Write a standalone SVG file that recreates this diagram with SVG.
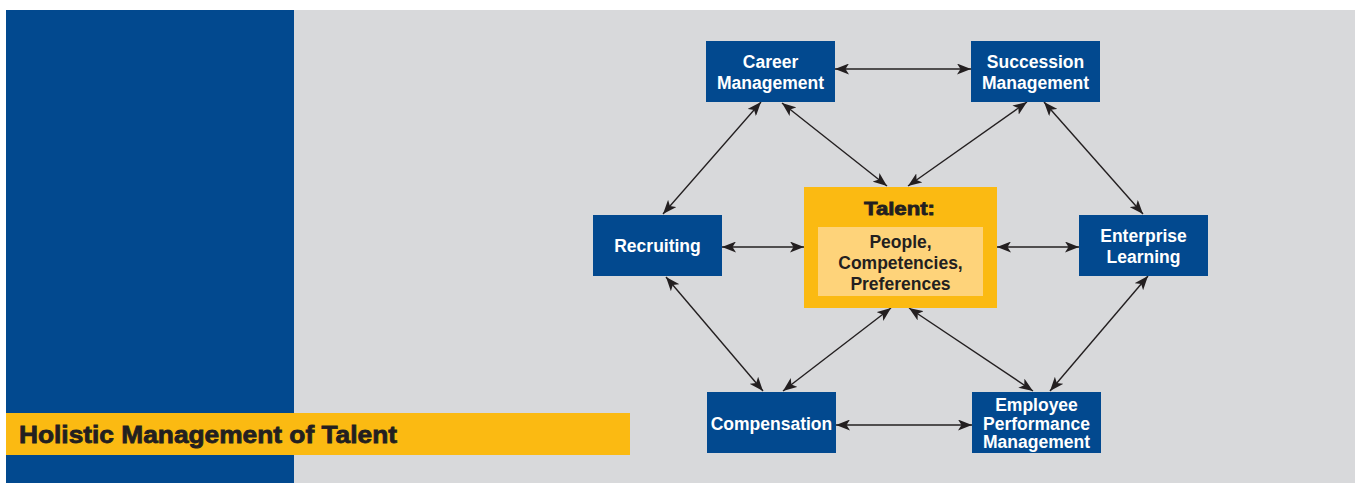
<svg xmlns="http://www.w3.org/2000/svg" width="1355" height="483" viewBox="0 0 1355 483">
<style>
.box{fill:#02498F}
.lbl{fill:#FFFFFF;font-family:"Liberation Sans",Arial,sans-serif;font-weight:bold;font-size:17.5px;text-anchor:middle}
.dark{fill:#231F20;font-family:"Liberation Sans",Arial,sans-serif;font-weight:bold;font-size:17.5px;text-anchor:middle}
.heavy{fill:#231F20;stroke:#231F20;stroke-width:0.8;font-family:"Liberation Sans",Arial,sans-serif;font-weight:bold}
.conn line{stroke:#231F20;stroke-width:1.4;marker-start:url(#ah);marker-end:url(#ah)}
</style>
<defs>
<marker id="ah" viewBox="0 0 14 11" refX="14" refY="5.5" markerWidth="14" markerHeight="11" markerUnits="userSpaceOnUse" orient="auto-start-reverse">
<path d="M0,0 L14,5.5 L0,11 L3.5,5.5 z" fill="#231F20"/>
</marker>
</defs>
<rect x="0" y="0" width="1355" height="483" fill="#FFFFFF"/>
<rect x="294" y="10" width="1061" height="473" fill="#D8D9DB"/>
<rect x="6" y="10" width="288" height="473" fill="#02498F"/>
<g id="title">
<rect x="6" y="413" width="624" height="42" fill="#FBBA12"/>
<text class="heavy" x="19" y="443" font-size="24.5" textLength="378" lengthAdjust="spacingAndGlyphs">Holistic Management of Talent</text>
</g>
<g class="conn" id="connectors">
<line x1="835" y1="69" x2="971" y2="69"/>
<line x1="722" y1="247" x2="804" y2="247"/>
<line x1="997" y1="247" x2="1079" y2="247"/>
<line x1="836" y1="425" x2="972" y2="425"/>
<line x1="761" y1="102" x2="663" y2="214"/>
<line x1="782" y1="103" x2="887" y2="186"/>
<line x1="1027" y1="102" x2="908" y2="186"/>
<line x1="1044" y1="102" x2="1143" y2="214"/>
<line x1="1148" y1="276" x2="1050" y2="391"/>
<line x1="909" y1="308" x2="1033" y2="391"/>
<line x1="891" y1="308" x2="783" y2="391"/>
<line x1="666" y1="277" x2="763" y2="391"/>
</g>
<g id="career">
<rect class="box" x="706" y="41" width="129" height="61"/>
<text class="lbl" x="770.5" y="68">Career</text>
<text class="lbl" x="770.5" y="89">Management</text>
</g>
<g id="succession">
<rect class="box" x="971" y="41" width="129" height="61"/>
<text class="lbl" x="1035.5" y="68">Succession</text>
<text class="lbl" x="1035.5" y="89">Management</text>
</g>
<g id="recruiting">
<rect class="box" x="593" y="215" width="129" height="61"/>
<text class="lbl" x="657.5" y="252">Recruiting</text>
</g>
<g id="enterprise">
<rect class="box" x="1079" y="215" width="129" height="61"/>
<text class="lbl" x="1143.5" y="242">Enterprise</text>
<text class="lbl" x="1143.5" y="263">Learning</text>
</g>
<g id="compensation">
<rect class="box" x="707" y="392" width="129" height="61"/>
<text class="lbl" x="771.5" y="430">Compensation</text>
</g>
<g id="epm">
<rect class="box" x="972" y="392" width="129" height="61"/>
<text class="lbl" x="1036.5" y="411">Employee</text>
<text class="lbl" x="1036.5" y="430">Performance</text>
<text class="lbl" x="1036.5" y="448">Management</text>
</g>
<g id="talent">
<rect x="804" y="187" width="193" height="121" fill="#FBBA12"/>
<rect x="818" y="227" width="165" height="69" fill="#FED37A"/>
<text class="heavy" x="864" y="215" font-size="18.5" textLength="71" lengthAdjust="spacingAndGlyphs">Talent:</text>
<text class="dark" x="900.5" y="248">People,</text>
<text class="dark" x="900.5" y="269">Competencies,</text>
<text class="dark" x="900.5" y="290">Preferences</text>
</g>
</svg>
